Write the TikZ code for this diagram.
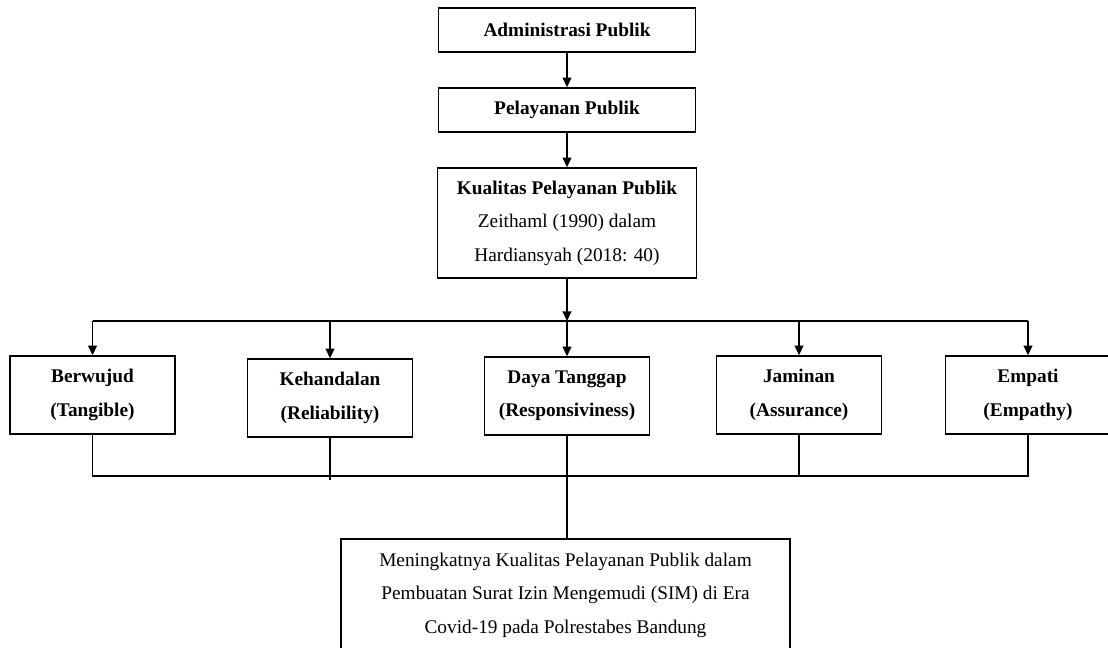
\documentclass[tikz,border=0pt]{standalone}
\usepackage{fontspec}
\setmainfont{Liberation Serif}
\usetikzlibrary{arrows.meta}

\begin{document}
\begin{tikzpicture}[
	x=0.02cm, y=-0.02cm,
	% Define styles for the boxes and the arrows
	box style/.style={draw, line width=0.8pt, align=center, inner sep=0pt, font=\fontsize{11}{19}\selectfont},
	top style/.style={box style, minimum width=5.14cm, minimum height=0.88cm, font=\fontsize{11}{19}\selectfont\bfseries},
	dim style/.style={box style, minimum width=3.3cm, minimum height=1.56cm, font=\fontsize{11}{19}\selectfont\bfseries},
	arrow style/.style={line width=0.8pt, -{Triangle[length=5.5pt, width=5pt]}}
	]
	
	\useasboundingbox (0,0) rectangle (1108,648);
	\clip (0,0) rectangle (1108,648);
	
	% Place the nodes
	\node[top style] (admin) at (567,30) {Administrasi Publik};
	\node[top style] (pelayanan) at (567,110) {Pelayanan Publik};
	\node[box style, minimum width=5.18cm, minimum height=2.2cm] (kualitas) at (567,223)
		{\textbf{Kualitas Pelayanan Publik}\\Zeithaml (1990) dalam\\Hardiansyah (2018: 40)};
	
	\node[dim style] (berwujud) at (92.5,395) {Berwujud\\(Tangible)};
	\node[dim style] (kehandalan) at (330,398) {Kehandalan\\(Reliability)};
	\node[dim style] (daya) at (567,396) {Daya Tanggap\\(Responsiviness)};
	\node[dim style] (jaminan) at (799,395) {Jaminan\\(Assurance)};
	\node[dim style] (empati) at (1028,395) {Empati\\(Empathy)};
	
	\node[box style, minimum width=8.98cm, minimum height=2.24cm] (hasil) at (565.5,595)
		{Meningkatnya Kualitas Pelayanan Publik dalam\\Pembuatan Surat Izin Mengemudi (SIM) di Era\\Covid-19 pada Polrestabes Bandung};
	
	\coordinate (split) at (567,321);
	\coordinate (join) at (567,476);
	
	% --- Draw the edges ---
	\draw[arrow style] (admin) -- (pelayanan);
	\draw[arrow style] (pelayanan) -- (kualitas);
	\draw[arrow style] (kualitas) -- (split);
	\draw[line width=0.8pt] (split -| berwujud) -- (split -| empati);
	\foreach \dim in {berwujud, kehandalan, daya, jaminan, empati}
		\draw[arrow style] (split -| \dim) -- (\dim);
	
	\draw[line width=0.8pt] (berwujud) |- (join) -| (empati);
	\draw[line width=0.8pt] (kehandalan) -- ([yshift=-2pt]kehandalan |- join);
	\draw[line width=0.8pt] (jaminan) -- (jaminan |- join);
	\draw[line width=0.8pt] (daya) -- (daya |- hasil.north);
\end{tikzpicture}
\end{document}
